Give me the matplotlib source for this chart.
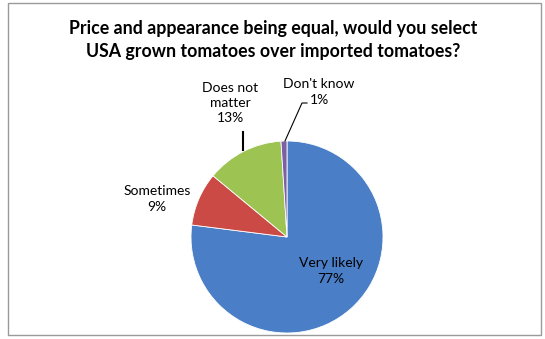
import matplotlib
matplotlib.use('Agg')
import matplotlib.pyplot as plt
from matplotlib.patches import Rectangle

# survey answers, clockwise from 12 o'clock
answers = ['Very likely', 'Sometimes', 'Does not\nmatter', "Don't know"]
shares = [77, 9, 13, 1]
colors = ['#4A7EC6', '#CC4A46', '#9DC352', '#7D5FA6']
title = 'Price and appearance being equal, would you select\nUSA grown tomatoes over imported tomatoes?'

W, H = 545, 339
fig = plt.figure(figsize=(W / 100, H / 100), dpi=100)
ax = fig.add_axes([0, 0, 1, 1])

cx, cy, r = 287, H - 237, 96
wedges, _ = ax.pie(shares, colors=colors, startangle=90, counterclock=False,
                   center=(cx, cy), radius=r,
                   wedgeprops=dict(edgecolor='white', linewidth=0.6))
ax.set_xlim(0, W)
ax.set_ylim(0, H)
ax.set_aspect('auto')
ax.axis('off')

# chart frame
ax.add_patch(Rectangle((8, 4), 533, 332, fill=False, edgecolor='#9a9a9a', lw=1))

ax.text(W / 2 + 1, H - 40, title, ha='center', va='center', fontsize=12.8,
        fontweight='bold', family='Lato', linespacing=1.4)

lab = dict(ha='center', va='center', fontsize=10, family='Lato', linespacing=1.35)
ax.text(331, H - 271, answers[0] + '\n' + str(shares[0]) + '%', **lab)
ax.text(157, H - 199, answers[1] + '\n' + str(shares[1]) + '%', **lab)
ax.text(230, H - 103, answers[2] + '\n' + str(shares[2]) + '%', **lab)
ax.text(319, H - 92, answers[3] + '\n' + str(shares[3]) + '%', **lab)

# leader lines
ax.plot([243, 243], [H - 132, H - 150], color='black', lw=1.5)
ax.plot([285, 302, 307], [H - 141, H - 103, H - 103], color='black', lw=0.8)

fig.savefig('out.png', dpi=100)
